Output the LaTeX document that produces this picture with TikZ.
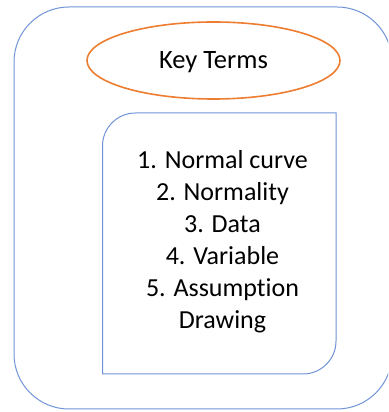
\documentclass[tikz,border=0pt]{standalone}
\usepackage{fontspec}
\setmainfont{Carlito}[Ligatures=NoCommon]
\usetikzlibrary{shapes.geometric}
\definecolor{boxblue}{HTML}{6F93D6}
\definecolor{keyorange}{HTML}{ED7D31}
\tikzset{
  frame/.style={draw=boxblue, line width=1pt},
  keyterm/.style={ellipse, draw=keyorange, line width=1.6pt, inner sep=0pt, text depth=0pt,
    minimum width=253pt, minimum height=77pt, font=\fontsize{26.5}{32}\selectfont},
  listtext/.style={align=center, inner sep=0pt, font=\fontsize{26}{32}\selectfont}
}
\begin{document}
\begin{tikzpicture}[x=1pt,y=1pt]
\useasboundingbox (0,0) rectangle (388,412);
\begin{scope}
\clip (0,0) rectangle (388,412);
\node[frame, rectangle, rounded corners=55pt, minimum width=378pt, minimum height=402pt, inner sep=0pt] (outer) at (203,204) {};
\end{scope}
\node[keyterm] (key) at (213.5,351.5) {Key Terms};
\draw[frame] (102.5,38) -- (102.5,266) arc[start angle=180, end angle=90, radius=33]
  -- (336,299) -- (336,71) arc[start angle=0, end angle=-90, radius=33] -- cycle;
\node[listtext, anchor=base] (terms) at (222.5,83) {1. Normal curve\\2. Normality\\3. Data\\4. Variable\\5. Assumption\\Drawing};
\end{tikzpicture}
\end{document}
